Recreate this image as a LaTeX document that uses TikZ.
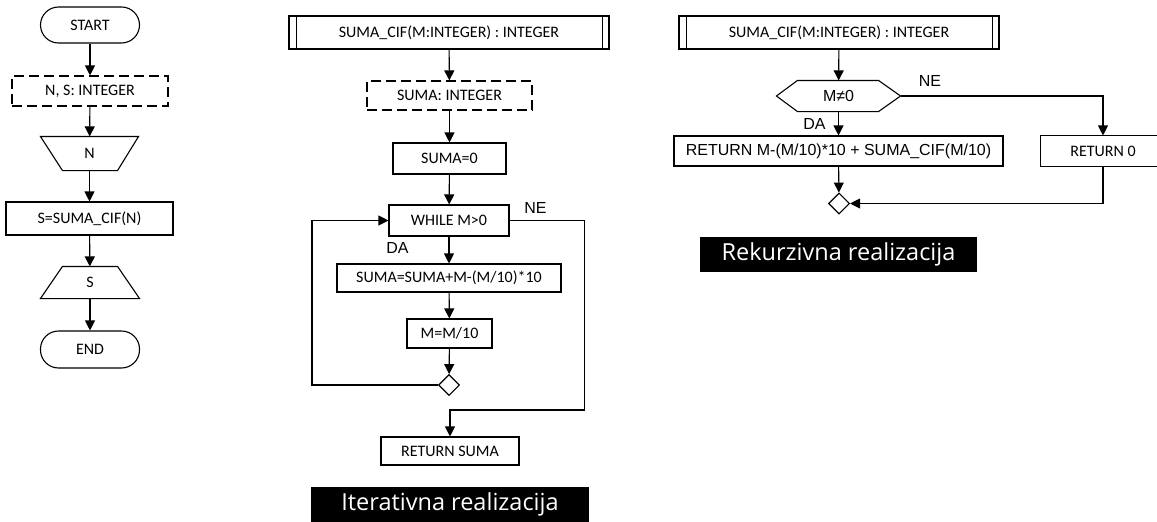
\documentclass[tikz,border=0pt]{standalone}
\usepackage{fontspec}
\setmainfont{Carlito}
\newfontfamily\arialfont{Liberation Sans}
\newfontfamily\labelfont{Open Sans}
\usetikzlibrary{arrows.meta,shapes.geometric}

\tikzset{
  base/.style={inner sep=0pt, font=\fontsize{16}{19}\selectfont},
  box/.style={base, draw, rectangle},
  termbox/.style={base, draw, rectangle, rounded corners=18pt},
  declbox/.style={base, draw, rectangle, dash pattern=on 10pt off 5pt},
  plainbox/.style={base, rectangle},
  joinbox/.style={draw, diamond, inner sep=0pt, minimum width=21pt, minimum height=21pt},
  arialtext/.style={inner sep=0pt, font=\arialfont\fontsize{16}{19}\selectfont},
  caption/.style={fill=black, text=white, inner sep=0pt, minimum width=278pt,
                  minimum height=35pt, font=\labelfont\fontsize{23.5}{28}\selectfont},
  flow/.style={-{Triangle[length=10pt,width=10pt]}},
  every path/.style={line width=1.1pt},
}

\begin{document}
\begin{tikzpicture}[x=1pt,y=-1pt]
\useasboundingbox (0,0) rectangle (1157,522);
\coordinate (rim) at (1157,0);

% ---- main program ----
\node[termbox, minimum width=99pt, minimum height=36pt] (start) at (90,25) {START};
\node[declbox, minimum width=156pt, minimum height=30pt] (vars) at (90,91) {N, S: INTEGER};
\node[plainbox, minimum width=97pt, minimum height=33pt] (inN) at (89.5,153.5) {N};
\draw (inN.north west) -- (inN.north east) -- ([xshift=-21pt]inN.south east)
      -- ([xshift=22pt]inN.south west) -- cycle;
\node[box, minimum width=167pt, minimum height=33pt] (call) at (89.5,218.5) {S=SUMA\_CIF(N)};
\node[plainbox, minimum width=98pt, minimum height=31pt] (outS) at (90,282.5) {S};
\draw (outS.south west) -- (outS.south east) -- ([xshift=-22pt]outS.north east)
      -- ([xshift=22pt]outS.north west) -- cycle;
\node[termbox, minimum width=99pt, minimum height=37pt] (stop) at (90,349.5) {END};

\draw[flow] (start) -- (vars);
\draw[flow] (vars) -- (inN);
\draw[flow] (inN) -- (call);
\draw[flow] (call) -- (outS);
\draw[flow] (outS) -- (stop);

% ---- iterative function ----
\node[box, minimum width=320pt, minimum height=33pt] (hdrA) at (449,32.5)
  {SUMA\_CIF(M:INTEGER) : INTEGER};
\draw ([xshift=8pt]hdrA.north west) -- ([xshift=8pt]hdrA.south west);
\draw ([xshift=-7.5pt]hdrA.north east) -- ([xshift=-7.5pt]hdrA.south east);
\node[declbox, minimum width=165pt, minimum height=29pt] (varA) at (449.5,95.5) {SUMA: INTEGER};
\node[box, minimum width=113pt, minimum height=31pt] (init) at (449.5,158.5) {SUMA=0};
\node[box, minimum width=120pt, minimum height=31pt] (loop) at (449,220.5) {WHILE M>0};
\node[box, minimum width=224pt, minimum height=28pt] (acc) at (449,278) {SUMA=SUMA+M-(M/10)*10};
\node[box, minimum width=85pt, minimum height=29pt] (shift) at (449.5,333.5) {M=M/10};
\node[joinbox] (joinA) at (449,385) {};
\node[box, minimum width=138pt, minimum height=28pt] (retA) at (450,451) {RETURN SUMA};
\node[caption] (capA) at (450,504.5) {Iterativna realizacija};
\node[arialtext] (neA) at (535.5,207.5) {NE};
\node[arialtext] (daA) at (397.5,247.5) {DA};

\draw[flow] (hdrA) -- (varA);
\draw[flow] (varA) -- (init);
\draw[flow] (init) -- (loop);
\draw[flow] (loop) -- (acc);
\draw[flow] (acc) -- (shift);
\draw[flow] (shift) -- (joinA);
\draw[flow] (joinA.west) -- ++(-126,0) |- (loop.west);
\draw[flow] (loop.east) -| ++(75,189.5) -| (retA.north);

% ---- recursive function ----
\node[box, minimum width=320pt, minimum height=33pt] (hdrB) at (839,32.5)
  {SUMA\_CIF(M:INTEGER) : INTEGER};
\draw ([xshift=8pt]hdrB.north west) -- ([xshift=8pt]hdrB.south west);
\draw ([xshift=-7.5pt]hdrB.north east) -- ([xshift=-7.5pt]hdrB.south east);
\node[arialtext, minimum width=123pt, minimum height=30pt] (test) at (838.5,96) {M≠0};
\draw (test.west) -- ([xshift=21pt]test.north west) -- ([xshift=-22pt]test.north east)
      -- (test.east) -- ([xshift=-22pt]test.south east) -- ([xshift=21pt]test.south west) -- cycle;
\node[arialtext, draw, minimum width=329pt, minimum height=30pt] (retRec) at (838.5,151)
  {RETURN M-(M/10)*10 + SUMA\_CIF(M/10)};
\node[plainbox, minimum width=124pt, minimum height=30pt] (retZero) at (1103,151) {RETURN 0};
\draw (retZero.north west -| rim) -- (retZero.north west) -- (retZero.south west) -- (retZero.south west -| rim);
\node[joinbox] (joinB) at (839,203.5) {};
\node[caption, minimum width=277pt] (capB) at (838.5,254.5) {Rekurzivna realizacija};
\node[arialtext] (neB) at (930,80.5) {NE};
\node[arialtext] (daB) at (814.5,124) {DA};

\draw[flow] (hdrB) -- (test);
\draw[flow] (test) -- (retRec);
\draw[flow] (test.east) -| (retZero.north);
\draw[flow] (retRec) -- (joinB);
\draw[flow] (retZero.south) |- (joinB.east);
\end{tikzpicture}
\end{document}
